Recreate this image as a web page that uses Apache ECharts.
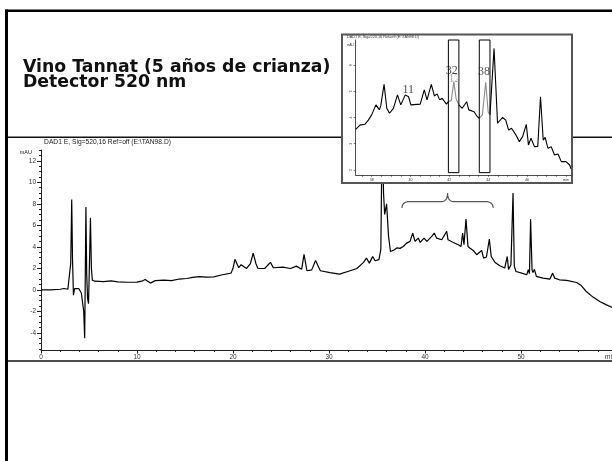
<!DOCTYPE html>
<html><head><meta charset="utf-8">
<script src="https://cdn.jsdelivr.net/npm/echarts@6/dist/echarts.min.js"></script>
<style>html,body{margin:0;padding:0;background:#fff}#c{width:612px;height:461px}</style>
</head><body><div id="c"></div>
<script>
// ---- main chromatogram (min, mAU) ----
const mainTimes = [0,1,2,2.4,2.8,3.0,3.1,3.2,3.28,3.38,3.5,3.7,3.95,4.2,4.45,4.55,4.62,4.68,4.76,4.85,4.95,5.05,5.15,5.25,5.35,5.6,6.5,7.3,8.0,9.0,10.0,10.5,10.85,11.4,11.9,12.8,13.6,14.4,15.2,15.8,16.5,17.2,18.0,18.9,19.8,20.0,20.2,20.6,20.85,21.4,21.8,22.1,22.4,22.6,23.3,23.9,24.2,25.2,26.0,26.6,27.15,27.4,27.7,28.2,28.6,29.1,30.1,31.1,32.2,32.9,33.6,33.9,34.2,34.55,34.8,35.2,35.4,35.55,35.68,35.8,36.0,36.2,36.4,36.77,37.1,37.4,37.74,38.09,38.44,38.72,38.96,39.3,39.5,39.9,40.2,40.7,40.97,41.2,41.74,42.26,42.4,42.95,43.47,43.75,43.92,44.06,44.27,44.48,44.7,45.03,45.38,45.9,46.1,46.4,46.7,46.9,47.3,47.8,48.3,48.57,48.7,48.95,49.17,49.3,49.48,50.07,50.6,50.76,50.88,51.0,51.15,51.25,51.4,51.6,52.3,53.0,53.3,53.5,53.7,54.0,54.76,55.8,56.3,56.8,57.5,58.2,58.9,59.5,60];
const mainValues = [0,0,0.05,0.12,0.05,0.2,2.5,8.4,3.0,-0.5,0.1,0.2,0.1,-0.3,-2.0,-4.5,2.0,7.7,1.5,-0.8,-1.3,2.5,6.7,2.0,0.9,0.8,0.75,0.82,0.74,0.7,0.72,0.8,0.95,0.62,0.85,0.9,0.85,1.0,1.05,1.15,1.22,1.18,1.2,1.4,1.55,2.0,2.83,2.05,2.33,1.98,2.4,3.41,2.4,1.98,1.98,2.55,2.05,2.1,1.98,2.2,1.9,3.3,1.77,1.85,2.73,1.77,1.6,1.46,1.77,1.98,2.55,2.95,2.48,3.1,2.7,2.8,3.75,16,9,7.0,8.0,5.0,3.56,3.7,3.9,3.85,4.03,4.34,4.5,5.27,4.5,4.81,4.4,4.81,4.5,4.96,5.27,4.81,4.65,5.43,4.65,4.4,4.19,4.03,5.27,4.19,6.57,4.03,3.87,3.66,3.26,3.66,2.95,3.05,4.71,3.1,2.54,2.23,2.02,3.1,1.9,2.3,9.0,2.2,1.7,1.55,1.4,1.86,1.5,6.57,1.86,1.6,1.9,1.24,1.09,0.99,1.55,1.09,1.25,0.93,0.87,0.68,0.37,-0.16,-0.68,-1.09,-1.4,-1.65,-1.8];
const xTickLabels = [0,10,20,30,40,50];
const yTickLabels = [-4,-2,0,2,4,6,8,10,12];

// ---- inset (zoomed region) ----
const insetTimes = [37.18,37.4,37.65,37.83,38.0,38.09,38.22,38.4,38.47,38.64,38.78,38.92,39.12,39.33,39.5,39.73,39.9,40.02,40.5,40.71,40.85,41.07,41.23,41.37,41.5,41.63,41.85,41.95,42.1,42.23,42.35,42.49,42.66,42.89,43.0,43.27,43.44,43.54,43.7,43.87,44.0,44.09,44.3,44.48,44.74,44.9,45.05,45.2,45.43,45.6,45.77,45.96,46.07,46.2,46.38,46.55,46.69,46.83,46.93,47.07,47.24,47.41,47.59,47.76,48.0,48.19,48.26];
const insetValues = [3.55,3.71,3.74,3.9,4.1,4.03,4.48,4.29,4.45,5.26,4.35,4.16,4.35,4.86,4.48,4.86,4.79,4.48,4.51,5.05,4.67,5.26,4.82,4.9,4.67,4.73,4.51,4.6,4.65,5.37,4.7,4.48,4.35,4.6,4.29,4.22,4.03,3.97,4.1,5.34,4.2,4.1,6.63,3.78,4.0,3.9,3.52,3.59,3.33,3.08,3.27,3.74,2.95,3.21,2.89,2.9,4.79,3.14,3.24,2.83,2.89,2.57,2.61,2.32,2.32,2.19,2.05];
const insetXTicks = [38,40,42,44,46,48];
const insetYTicks = [2,3,4,5,6];
const boxRanges = [[41.95,42.49],[43.54,44.09]];
const boxLow = 1.9, boxHigh = 6.95;
const peakNames = ['11','12','32','38'];
const peakTimes = [39.88,42.26,42.12,43.78];
const peakValues = [5.05,5.48,5.78,5.73];
const peakGrey = [false,true,false,false];
const braceRange = [37.6, 47.1];

const AX = '#222', LB = '#333';
const mainData = mainTimes.map((t,i)=>[t, mainValues[i]]);
const blackData = [], greyData = [];
const eps = 1e-9;
insetTimes.forEach((t,i)=>{
  const v = insetValues[i];
  const inside = boxRanges.some(([a,b])=> t>a+eps && t<b-eps);
  const onBox = boxRanges.some(([a,b])=> t>=a-eps && t<=b+eps);
  if (!inside) blackData.push([t,v]);
  if (boxRanges.some(([a])=>Math.abs(t-a)<eps)) blackData.push([t,'-']);
  if (onBox) greyData.push([t,v]);
  if (boxRanges.some(([a,b])=>Math.abs(t-b)<eps)) greyData.push([t,'-']);
});
const yMinor = []; for (let v=-5.5; v<=13.001; v+=0.5) yMinor.push(+v.toFixed(1));
const insetMinorX = []; for (let v=37.5; v<=48.001; v+=0.5) insetMinorX.push(+v.toFixed(1));

const chart = echarts.init(document.getElementById('c'));
const option = {
  animation:false,
  backgroundColor:'#fff',
  grid:[
    {left:41, top:150, width:576, height:200, outerBoundsMode:'none', containLabel:false},
    {left:355.7, top:40, width:215.3, height:135, outerBoundsMode:'none', containLabel:false}
  ],
  xAxis:[
    {gridIndex:0, type:'value', min:0, max:60, interval:10,
     axisLine:{onZero:false, lineStyle:{color:AX,width:1}},
     axisTick:{length:3.5, lineStyle:{color:AX}},
     minorTick:{show:true, splitNumber:5, length:2, lineStyle:{color:AX}},
     axisLabel:{fontSize:6.5, color:LB, margin:4, fontFamily:'Liberation Sans', formatter:v=> v>=60?'':String(v)},
     splitLine:{show:false}, minorSplitLine:{show:false}},
    {gridIndex:1, type:'value', min:37.18, max:48.26, z:20,
     axisLine:{onZero:false, lineStyle:{color:AX,width:0.8}},
     axisTick:{customValues:insetMinorX, length:1.8, lineStyle:{color:AX,width:0.6}},
     axisLabel:{customValues:insetXTicks, fontSize:3.6, color:LB, margin:2.5, fontFamily:'Liberation Sans', formatter:v=> v===48?'min':String(v)},
     splitLine:{show:false}}
  ],
  yAxis:[
    {gridIndex:0, type:'value', position:'left', min:-5.6, max:13,
     axisLine:{show:true, onZero:false, lineStyle:{color:AX}},
     axisTick:{show:true, customValues:yTickLabels, length:4, lineStyle:{color:AX}},
     axisLabel:{customValues:yTickLabels, fontSize:6.5, color:LB, margin:5, fontFamily:'Liberation Sans'},
     splitLine:{show:false}},
    {gridIndex:0, type:'value', position:'left', min:-5.6, max:13,
     axisLine:{show:false, onZero:false},
     axisTick:{show:true, customValues:yMinor, length:2, lineStyle:{color:AX}},
     axisLabel:{show:false}, splitLine:{show:false}},
    {gridIndex:1, type:'value', position:'left', min:1.81, max:6.95, z:20,
     axisLine:{show:true, onZero:false, lineStyle:{color:AX,width:0.8}},
     axisTick:{show:true, customValues:insetYTicks, length:2, lineStyle:{color:AX,width:0.6}},
     axisLabel:{customValues:insetYTicks, fontSize:3.6, color:LB, margin:3, rotate:90, fontFamily:'Liberation Sans'},
     splitLine:{show:false}}
  ],
  series:[
    {type:'line', xAxisIndex:0, yAxisIndex:0, data:mainData, symbol:'none', lineStyle:{color:'#000', width:1.2}, z:2},
    {type:'line', xAxisIndex:1, yAxisIndex:2, data:blackData, symbol:'none', lineStyle:{color:'#000', width:1.1}, z:20},
    {type:'line', xAxisIndex:1, yAxisIndex:2, data:greyData, symbol:'none', lineStyle:{color:'#8c8c8c', width:1.1}, z:20},
    {type:'scatter', xAxisIndex:1, yAxisIndex:2, symbolSize:1, itemStyle:{color:'rgba(0,0,0,0)'}, z:22,
     data: peakNames.map((n,i)=>({name:n, value:[peakTimes[i], peakValues[i]], label:{color: peakGrey[i]?'#9a9a9a':'#222'}})),
     label:{show:true, position:'inside', formatter:'{b}', fontFamily:'Liberation Serif', fontSize:12}}
  ],
  graphic:[
    {id:'topBorder', type:'rect', shape:{x:5,y:9.5,width:607,height:2.5}, style:{fill:'#000'}, z:1},
    {id:'leftBorder', type:'rect', shape:{x:5,y:9.5,width:3,height:452}, style:{fill:'#000'}, z:1},
    {id:'hl1', type:'line', shape:{x1:8,y1:137.3,x2:612,y2:137.3}, style:{stroke:'#111', lineWidth:1.4}, z:1},
    {id:'hl2', type:'line', shape:{x1:8,y1:361,x2:612,y2:361}, style:{stroke:'#111', lineWidth:1.4}, z:1},
    {id:'t1', type:'text', x:23, y:67.5, style:{text:'Vino Tannat (5 años de crianza)', font:'bold 17.3px "DejaVu Sans"', fill:'#111', textVerticalAlign:'middle'}, z:5},
    {id:'t2', type:'text', x:23, y:82.5, style:{text:'Detector 520 nm', font:'bold 17.3px "DejaVu Sans"', fill:'#111', textVerticalAlign:'middle'}, z:5},
    {id:'t3', type:'text', x:107.5, y:142.5, style:{text:'DAD1 E, Sig=520,16 Ref=off (E:\\TAN98.D)', font:'6.7px "Liberation Sans"', fill:'#222', textAlign:'center', textVerticalAlign:'middle'}, z:5},
    {id:'t4', type:'text', x:32, y:152.5, style:{text:'mAU', font:'5.5px "Liberation Sans"', fill:'#222', textAlign:'right', textVerticalAlign:'middle'}, z:5},
    {id:'t5', type:'text', x:605, y:357.5, style:{text:'min', font:'6.5px "Liberation Sans"', fill:'#333', textVerticalAlign:'middle'}, z:5},
    {id:'insetBg', type:'rect', shape:{x:342,y:34.5,width:230,height:148.5}, style:{fill:'#fff', stroke:'#555', lineWidth:2}, z:10},
    {id:'t6', type:'text', x:347, y:37, style:{text:'DAD1 E, Sig=520,16 Ref=off (E:\\TAN98.D)', font:'3.8px "Liberation Sans"', fill:'#333', textVerticalAlign:'middle'}, z:15},
    {id:'t7', type:'text', x:347, y:45, style:{text:'mAU', font:'3px "Liberation Sans"', fill:'#333', textVerticalAlign:'middle'}, z:15}
  ]
};
chart.setOption(option);
// annotations placed through the axes' own scales
const extra = [];
boxRanges.forEach(([a,b],i)=>{
  const pA = chart.convertToPixel({gridIndex:1}, [a, boxHigh]);
  const pB = chart.convertToPixel({gridIndex:1}, [b, boxLow]);
  extra.push({id:'box'+i, type:'rect', z:21, shape:{x:pA[0], y:pA[1], width:pB[0]-pA[0], height:pB[1]-pA[1]},
    style:{fill:null, stroke:'#000', lineWidth:1}});
});
const p0 = chart.convertToPixel({gridIndex:0}, [braceRange[0], 7.6]);
const p1 = chart.convertToPixel({gridIndex:0}, [braceRange[1], 7.6]);
const pm = chart.convertToPixel({gridIndex:0}, [(braceRange[0]+braceRange[1])/2, 9.0]);
const ym = chart.convertToPixel({gridIndex:0}, [0, 8.2])[1];
const x0=p0[0], x1=p1[0], y0=p0[1], xm=pm[0], yt=pm[1];
function quad(a, c, b, n){ const out=[]; for(let k=0;k<=n;k++){const s=k/n; out.push([(1-s)*(1-s)*a[0]+2*s*(1-s)*c[0]+s*s*b[0], (1-s)*(1-s)*a[1]+2*s*(1-s)*c[1]+s*s*b[1]]);} return out; }
const bracePts = [].concat(
  quad([x0,y0],[x0,ym],[x0+8,ym],8),
  quad([xm-6,ym],[xm,ym],[xm,yt],8),
  quad([xm,yt],[xm,ym],[xm+6,ym],8),
  quad([x1-8,ym],[x1,ym],[x1,y0],8)
);
extra.push({id:'brace', type:'polyline', z:5, shape:{points:bracePts},
  style:{stroke:'#555', fill:null, lineWidth:1.2}});
chart.setOption({graphic: extra});
</script></body></html>
